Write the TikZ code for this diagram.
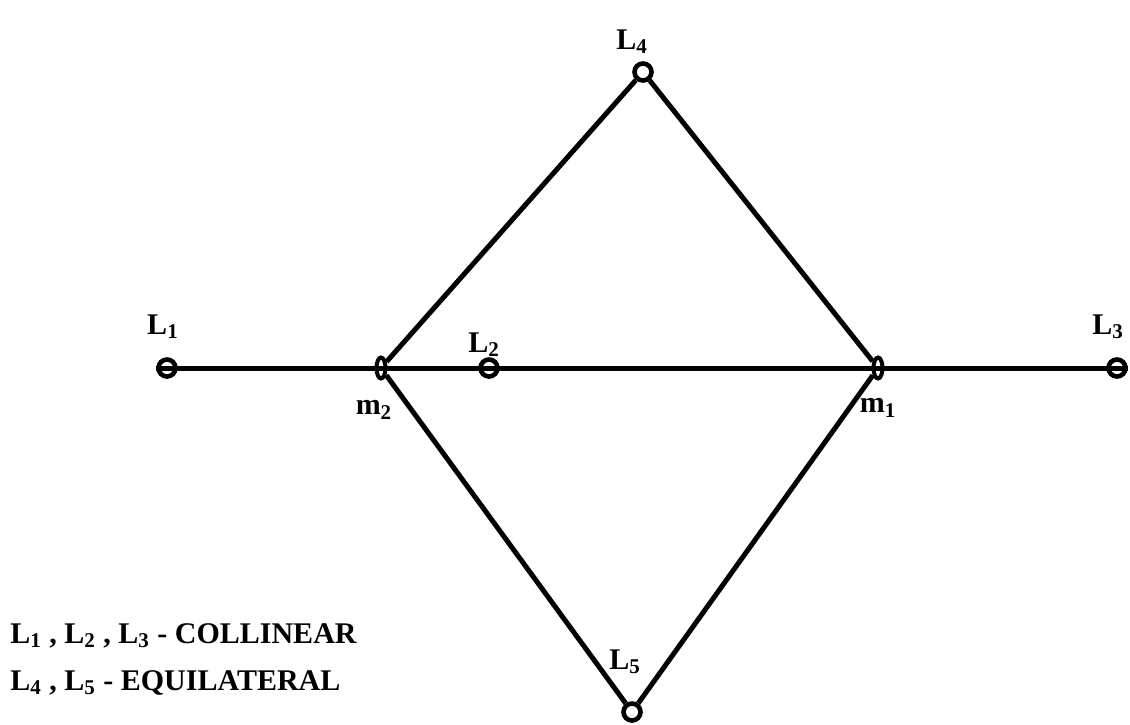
\documentclass[tikz,border=0pt]{standalone}
\usepackage{fontspec}
\setmainfont{Liberation Serif}
\usetikzlibrary{shapes.geometric}

\begin{document}
\begin{tikzpicture}[x=0.5pt,y=-0.5pt,font=\bfseries\fontsize{15}{18}\selectfont,
      link/.style={line width=2.5pt,black},
      point/.style={circle,draw,line width=2.3pt,minimum size=8.5pt,inner sep=0pt},
      mass/.style={ellipse,draw,line width=2pt,minimum width=4.5pt,
                   minimum height=10.5pt,inner sep=0pt},
      tag/.style={inner sep=1pt}]
    \useasboundingbox (0,0) rectangle (1130,724);
    % libration points and masses
    \node[point] (Lone) at (167,368) {};
    \node[point] (Ltwo) at (489,368) {};
    \node[point] (Lthree) at (1117,368) {};
    \node[point] (Lfour) at (643,72) {};
    \node[point] (Lfive) at (632,712) {};
    \node[mass] (mtwo) at (381,368) {};
    \node[mass] (mone) at (878,368) {};
    % connectors
    \draw[link] (Lone.west) -- (Lthree.east);
    \draw[link] (mtwo) -- (Lfour);
    \draw[link] (Lfour) -- (mone);
    \draw[link] (mtwo) -- (Lfive);
    \draw[link] (Lfive) -- (mone);
    % labels
    \node[tag] (tLone) at (163,327) {L\textsubscript{1}};
    \node[tag] (tLtwo) at (484,345) {L\textsubscript{2}};
    \node[tag] (tLthree) at (1108,327) {L\textsubscript{3}};
    \node[tag] (tLfour) at (632,42) {L\textsubscript{4}};
    \node[tag] (tLfive) at (625,662) {L\textsubscript{5}};
    \node[tag] (tmtwo) at (374,410) {m\textsubscript{2}};
    \node[tag] (tmone) at (878,408) {m\textsubscript{1}};
    \node[tag,anchor=west] (legendA) at (8,636)
      {L\textsubscript{1} , L\textsubscript{2} , L\textsubscript{3} - COLLINEAR};
    \node[tag,anchor=west] (legendB) at (8,683)
      {L\textsubscript{4} , L\textsubscript{5} - EQUILATERAL};
  \end{tikzpicture}
\end{document}
